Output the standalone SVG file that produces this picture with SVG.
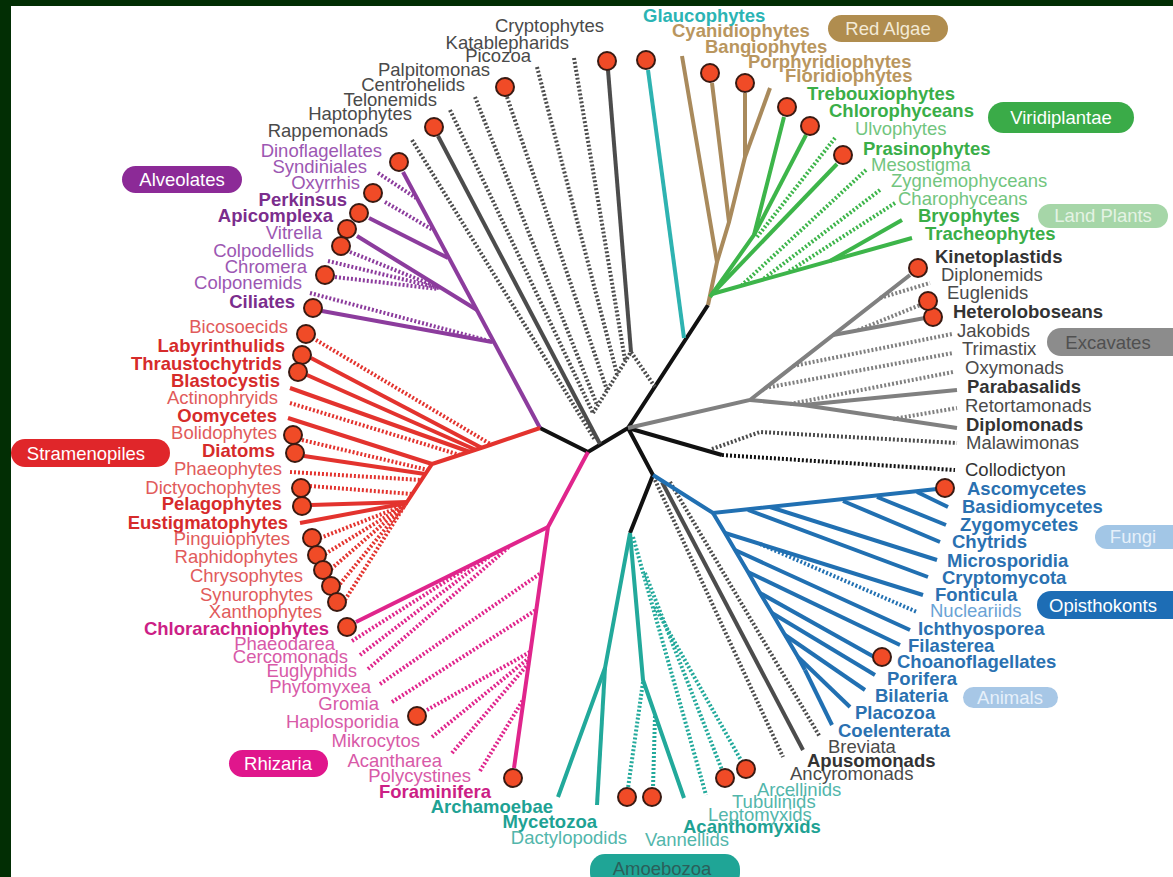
<svg xmlns="http://www.w3.org/2000/svg" width="1173" height="877" viewBox="0 0 1173 877">
<style>
.c{fill:#f04b27;stroke:#3a1a12;stroke-width:2}
text{font-family:"Liberation Sans",Arial,Helvetica,sans-serif;font-size:18.5px}
.e{text-anchor:end}
.m{text-anchor:middle}
.b{font-weight:bold}
.s{fill:none;stroke-width:4}
.d{stroke-dasharray:2 2}
.k{stroke:#111}
.g4{stroke:#4c4c4c}
.pu{stroke:#8c3c9d}
.re{stroke:#e3332e}
.pk{stroke:#e0258c}
.te{stroke:#22a99b}
.gl{stroke:#2eb3b1}
.bl{stroke:#2170b2}
.gr{stroke:#808080}
.gn{stroke:#3db54a}
.br{stroke:#a98a5c}
.tg{fill:#4a4a4a}.tgb{fill:#333}
.tpu{fill:#9c57b2}.tpub{fill:#7b2d8d}
.tre{fill:#e15b5b}.treb{fill:#d62b2b}
.tpk{fill:#d85aa8}.tpkb{fill:#cc1f86}
.tte{fill:#52b6ab}.tteb{fill:#1ea294}
.tbl{fill:#6aa3d5}.tblb{fill:#2a71b1}
.tgn{fill:#72c57e}.tgnb{fill:#3aae48}
.tbrb{fill:#b9965e}
.tglb{fill:#2bb4b4}
.pt{fill:#fff}
</style>
<rect x="0" y="0" width="1173" height="877" fill="#022e04"/>
<rect x="11" y="6" width="1162" height="871" fill="#fff"/>

<g id="connectors">
<path class="s k" d="M540,428 L588,452 L628,428 L708,305"/>
<path class="s k" d="M628,428 L653,475 L630,533"/>
<path class="s k" d="M628,428 L722,455"/>
<path class="s k d" d="M722,455 L955,470"/>
<path class="s g4 d" d="M412,140 L595,440"/>
<path class="s g4" d="M438,136 L600,444"/>
<path class="s g4 d" d="M450,110 L593,413"/>
<path class="s g4 d" d="M475,97 L597,405"/>
<path class="s g4 d" d="M507,97 L607,390"/>
<path class="s g4 d" d="M537,67 L617,374"/>
<path class="s g4 d" d="M574,58 L625,360"/>
<path class="s g4" d="M608,70 L631,352"/>
<path class="s g4 d" d="M593,413 L631,352 L655,387"/>
<path class="s gl" d="M648,70 L684,338"/>
<path class="s br" d="M682,56 L717,262 L708,305"/>
<path class="s br" d="M712,83 L729,222 L717,262"/>
<path class="s br" d="M745,93 L745,157 L729,222"/>
<path class="s br" d="M770,88 L745,157"/>
<path class="s gn" d="M784,117 L754,235 L710,297"/>
<path class="s gn" d="M806,135 L754,235"/>
<path class="s gn d" d="M835,138 L757,237"/>
<path class="s gn" d="M837,164 L712,294"/>
<path class="s gn d" d="M866,170 L742,285"/>
<path class="s gn d" d="M880,190 L762,280"/>
<path class="s gn d" d="M895,203 L788,272"/>
<path class="s gn" d="M902,220 L830,261"/>
<path class="s gn" d="M912,238 L712,294"/>
<path class="s pu" d="M403,172 L540,428"/>
<path class="s pu d" d="M378,173 L416,198"/>
<path class="s pu d" d="M385,202 L433,230"/>
<path class="s pu" d="M369,218 L448,258"/>
<path class="s pu" d="M357,236 L477,310"/>
<path class="s pu d" d="M350,252 L440,288"/>
<path class="s pu d" d="M328,261 L439,288"/>
<path class="s pu d" d="M335,277 L438,289"/>
<path class="s pu d" d="M310,293 L493,342"/>
<path class="s pu" d="M322,311 L492,342"/>
<path class="s re" d="M540,428 L487,446 L432,464 L405,505"/>
<path class="s re d" d="M316,340 L492,445"/>
<path class="s re" d="M311,358 L482,448"/>
<path class="s re" d="M307,375 L476,450"/>
<path class="s re" d="M290,388 L470,452"/>
<path class="s re d" d="M290,403 L460,455"/>
<path class="s re" d="M288,418 L432,464"/>
<path class="s re d" d="M302,440 L428,470"/>
<path class="s re" d="M304,456 L425,474"/>
<path class="s re d" d="M290,472 L421,480"/>
<path class="s re d" d="M310,486 L412,494"/>
<path class="s re" d="M311,505 L407,502"/>
<path class="s re" d="M300,523 L407,503"/>
<path class="s re d" d="M320,538 L405,505"/>
<path class="s re d" d="M325,554 L405,505"/>
<path class="s re d" d="M331,569 L405,505"/>
<path class="s re d" d="M340,584 L405,505"/>
<path class="s re d" d="M345,600 L405,505"/>
<path class="s pk" d="M588,452 L548,527 L514,768"/>
<path class="s pk" d="M356,622 L548,527"/>
<path class="s pk d" d="M352,641 L470,566"/>
<path class="s pk d" d="M360,655 L490,556"/>
<path class="s pk d" d="M368,669 L510,546"/>
<path class="s pk d" d="M380,684 L541,573"/>
<path class="s pk d" d="M392,702 L536,610"/>
<path class="s pk d" d="M427,710 L530,652"/>
<path class="s pk d" d="M432,737 L529,658"/>
<path class="s pk d" d="M452,753 L529,663"/>
<path class="s pk d" d="M480,771 L523,700"/>
<path class="s te" d="M630,533 L605,668 L558,797"/>
<path class="s te" d="M605,668 L597,805"/>
<path class="s te" d="M630,533 L643,680 L684,798"/>
<path class="s te d" d="M643,682 L628,788"/>
<path class="s te d" d="M655,716 L653,788"/>
<path class="s te d" d="M633,537 L706,795"/>
<path class="s te d" d="M645,573 L722,770"/>
<path class="s te d" d="M655,607 L742,762"/>
<path class="s g4 d" d="M655,480 L783,757"/>
<path class="s g4" d="M662,482 L803,750"/>
<path class="s g4 d" d="M670,482 L820,737"/>
<path class="s bl" d="M653,475 L713,513 L937,489"/>
<path class="s bl" d="M917,492 L948,507"/>
<path class="s bl" d="M877,497 L946,525"/>
<path class="s bl" d="M843,501 L940,542"/>
<path class="s bl" d="M770,507 L937,560"/>
<path class="s bl" d="M748,510 L928,577"/>
<path class="s bl" d="M713,513 L725,533 L735,550 L748,572 L760,593 L772,613 L785,635 L798,657 L805,670"/>
<path class="s bl" d="M725,533 L923,595"/>
<path class="s bl d" d="M760,544 L917,612"/>
<path class="s bl" d="M735,550 L910,630"/>
<path class="s bl" d="M748,572 L900,645"/>
<path class="s bl" d="M760,593 L876,658"/>
<path class="s bl" d="M772,613 L875,675"/>
<path class="s bl" d="M785,635 L865,690"/>
<path class="s bl" d="M798,657 L850,707"/>
<path class="s bl" d="M805,670 L832,725"/>
<path class="s gr" d="M628,428 L750,400 L910,275"/>
<path class="s gr" d="M833,335 L925,318"/>
<path class="s gr d" d="M858,330 L920,305"/>
<path class="s gr d" d="M880,298 L930,283"/>
<path class="s gr d" d="M793,366 L952,334"/>
<path class="s gr d" d="M765,388 L953,353"/>
<path class="s gr d" d="M790,404 L953,372"/>
<path class="s gr" d="M750,400 L803,405 L957,390"/>
<path class="s gr" d="M803,405 L957,428"/>
<path class="s gr d" d="M893,419 L957,408"/>
<path class="s g4 d" d="M712,449 L760,432 L957,443"/>
</g>

<g id="n-cryptophytes"><circle class="c" cx="607" cy="61" r="9"/><text class="e tg" x="604" y="32">Cryptophytes</text></g>
<g id="n-katablepharids"><text class="e tg" x="569" y="49">Katablepharids</text></g>
<g id="n-picozoa"><text class="e tg" x="531" y="62">Picozoa</text></g>
<g id="n-palpitomonas"><circle class="c" cx="505" cy="87" r="9"/><text class="e tg" x="490" y="76">Palpitomonas</text></g>
<g id="n-centrohelids"><text class="e tg" x="465" y="91">Centrohelids</text></g>
<g id="n-telonemids"><text class="e tg" x="437" y="106">Telonemids</text></g>
<g id="n-haptophytes"><circle class="c" cx="434" cy="127" r="9"/><text class="e tg" x="412" y="120">Haptophytes</text></g>
<g id="n-rappemonads"><text class="e tg" x="388" y="137">Rappemonads</text></g>

<g id="n-dinoflagellates"><circle class="c" cx="399" cy="162" r="9"/><text class="e tpu" x="382" y="157">Dinoflagellates</text></g>
<g id="n-syndiniales"><text class="e tpu" x="367" y="173">Syndiniales</text></g>
<g id="n-oxyrrhis"><text class="e tpu" x="360" y="189">Oxyrrhis</text></g>
<g id="n-perkinsus"><circle class="c" cx="373" cy="193" r="9"/><text class="e b tpub" x="347" y="206">Perkinsus</text></g>
<g id="n-apicomplexa"><circle class="c" cx="359" cy="213" r="9"/><text class="e b tpub" x="333" y="222">Apicomplexa</text></g>
<g id="n-vitrella"><circle class="c" cx="347" cy="229" r="9"/><text class="e tpu" x="322" y="239">Vitrella</text></g>
<g id="n-colpodellids"><circle class="c" cx="341" cy="246" r="9"/><text class="e tpu" x="314" y="257">Colpodellids</text></g>
<g id="n-chromera"><circle class="c" cx="325" cy="275" r="9"/><text class="e tpu" x="307" y="273">Chromera</text></g>
<g id="n-colponemids"><text class="e tpu" x="302" y="289">Colponemids</text></g>
<g id="n-ciliates"><circle class="c" cx="313" cy="308" r="9"/><text class="e b tpub" x="295" y="308">Ciliates</text></g>

<g id="n-bicosoecids"><circle class="c" cx="306" cy="334" r="9"/><text class="e tre" x="288" y="333">Bicosoecids</text></g>
<g id="n-labyrinthulids"><circle class="c" cx="302" cy="355" r="9"/><text class="e b treb" x="285" y="352">Labyrinthulids</text></g>
<g id="n-thraustochytrids"><circle class="c" cx="298" cy="372" r="9"/><text class="e b treb" x="282" y="370">Thraustochytrids</text></g>
<g id="n-blastocystis"><text class="e b treb" x="280" y="387">Blastocystis</text></g>
<g id="n-actinophryids"><text class="e tre" x="278" y="404">Actinophryids</text></g>
<g id="n-oomycetes"><text class="e b treb" x="277" y="422">Oomycetes</text></g>
<g id="n-bolidophytes"><circle class="c" cx="293" cy="435" r="9"/><text class="e tre" x="277" y="439">Bolidophytes</text></g>
<g id="n-diatoms"><circle class="c" cx="295" cy="453" r="9"/><text class="e b treb" x="275" y="457">Diatoms</text></g>
<g id="n-phaeophytes"><text class="e tre" x="282" y="475">Phaeophytes</text></g>
<g id="n-dictyochophytes"><circle class="c" cx="301" cy="488" r="9"/><text class="e tre" x="281" y="494">Dictyochophytes</text></g>
<g id="n-pelagophytes"><circle class="c" cx="302" cy="506" r="9"/><text class="e b treb" x="282" y="510">Pelagophytes</text></g>
<g id="n-eustigmatophytes"><text class="e b treb" x="288" y="529">Eustigmatophytes</text></g>
<g id="n-pinguiophytes"><circle class="c" cx="312" cy="538" r="9"/><text class="e tre" x="290" y="545">Pinguiophytes</text></g>
<g id="n-raphidophytes"><circle class="c" cx="317" cy="555" r="9"/><text class="e tre" x="298" y="563">Raphidophytes</text></g>
<g id="n-chrysophytes"><circle class="c" cx="323" cy="570" r="9"/><text class="e tre" x="303" y="582">Chrysophytes</text></g>
<g id="n-synurophytes"><circle class="c" cx="331" cy="586" r="9"/><text class="e tre" x="313" y="601">Synurophytes</text></g>
<g id="n-xanthophytes"><circle class="c" cx="337" cy="602" r="9"/><text class="e tre" x="322" y="618">Xanthophytes</text></g>

<g id="n-chlorarachniophytes"><circle class="c" cx="347" cy="627" r="9"/><text class="e b tpkb" x="329" y="635">Chlorarachniophytes</text></g>
<g id="n-phaeodarea"><text class="e tpk" x="335" y="650">Phaeodarea</text></g>
<g id="n-cercomonads"><text class="e tpk" x="348" y="663">Cercomonads</text></g>
<g id="n-euglyphids"><text class="e tpk" x="357" y="677">Euglyphids</text></g>
<g id="n-phytomyxea"><text class="e tpk" x="371" y="693">Phytomyxea</text></g>
<g id="n-gromia"><text class="e tpk" x="379" y="710">Gromia</text></g>
<g id="n-haplosporidia"><circle class="c" cx="417" cy="716" r="9"/><text class="e tpk" x="399" y="728">Haplosporidia</text></g>
<g id="n-mikrocytos"><text class="e tpk" x="420" y="747">Mikrocytos</text></g>
<g id="n-acantharea"><text class="e tpk" x="442" y="767">Acantharea</text></g>
<g id="n-polycystines"><text class="e tpk" x="471" y="782">Polycystines</text></g>
<g id="n-foraminifera"><circle class="c" cx="513" cy="778" r="9"/><text class="e b tpkb" x="491" y="798">Foraminifera</text></g>

<g id="n-archamoebae"><text class="e b tteb" x="553" y="813">Archamoebae</text></g>
<g id="n-mycetozoa"><text class="e b tteb" x="597" y="828">Mycetozoa</text></g>
<g id="n-dactylopodids"><circle class="c" cx="627" cy="797" r="9"/><text class="e tte" x="627" y="844">Dactylopodids</text></g>
<g id="n-vannellids"><circle class="c" cx="652" cy="797" r="9"/><text class="tte" x="645" y="846">Vannellids</text></g>
<g id="n-acanthomyxids"><text class="b tteb" x="683" y="833">Acanthomyxids</text></g>
<g id="n-leptomyxids"><text class="tte" x="708" y="821">Leptomyxids</text></g>
<g id="n-tubulinids"><circle class="c" cx="725" cy="778" r="9"/><text class="tte" x="732" y="808">Tubulinids</text></g>
<g id="n-arcellinids"><circle class="c" cx="746" cy="769" r="9"/><text class="tte" x="757" y="796">Arcellinids</text></g>

<g id="n-breviata"><text class="tg" x="828" y="753">Breviata</text></g>
<g id="n-apusomonads"><text class="b tgb" x="807" y="767">Apusomonads</text></g>
<g id="n-ancyromonads"><text class="tg" x="790" y="780">Ancyromonads</text></g>

<g id="n-coelenterata"><text class="b tblb" x="838" y="737">Coelenterata</text></g>
<g id="n-placozoa"><text class="b tblb" x="855" y="719">Placozoa</text></g>
<g id="n-bilateria"><text class="b tblb" x="875" y="702">Bilateria</text></g>
<g id="n-porifera"><text class="b tblb" x="887" y="685">Porifera</text></g>
<g id="n-choanoflagellates"><circle class="c" cx="882" cy="657" r="9"/><text class="b tblb" x="897" y="668">Choanoflagellates</text></g>
<g id="n-filasterea"><text class="b tblb" x="908" y="652">Filasterea</text></g>
<g id="n-ichthyosporea"><text class="b tblb" x="918" y="635">Ichthyosporea</text></g>
<g id="n-nucleariids"><text class="tbl" x="930" y="617">Nucleariids</text></g>
<g id="n-fonticula"><text class="b tblb" x="935" y="601">Fonticula</text></g>
<g id="n-cryptomycota"><text class="b tblb" x="942" y="584">Cryptomycota</text></g>
<g id="n-microsporidia"><text class="b tblb" x="947" y="567">Microsporidia</text></g>
<g id="n-chytrids"><text class="b tblb" x="952" y="548">Chytrids</text></g>
<g id="n-zygomycetes"><text class="b tblb" x="960" y="531">Zygomycetes</text></g>
<g id="n-basidiomycetes"><text class="b tblb" x="962" y="513">Basidiomycetes</text></g>
<g id="n-ascomycetes"><circle class="c" cx="945" cy="488" r="9"/><text class="b tblb" x="967" y="495">Ascomycetes</text></g>
<g id="n-collodictyon"><text class="tgb" x="965" y="476">Collodictyon</text></g>

<g id="n-malawimonas"><text class="tg" x="966" y="449">Malawimonas</text></g>
<g id="n-diplomonads"><text class="b tgb" x="966" y="431">Diplomonads</text></g>
<g id="n-retortamonads"><text class="tg" x="965" y="412">Retortamonads</text></g>
<g id="n-parabasalids"><text class="b tgb" x="967" y="393">Parabasalids</text></g>
<g id="n-oxymonads"><text class="tg" x="965" y="374">Oxymonads</text></g>
<g id="n-trimastix"><text class="tg" x="962" y="355">Trimastix</text></g>
<g id="n-jakobids"><text class="tg" x="957" y="337">Jakobids</text></g>
<g id="n-heteroloboseans"><circle class="c" cx="933" cy="317" r="9"/><text class="b tgb" x="953" y="318">Heteroloboseans</text></g>
<g id="n-euglenids"><circle class="c" cx="928" cy="301" r="9"/><text class="tg" x="947" y="299">Euglenids</text></g>
<g id="n-diplonemids"><text class="tg" x="941" y="281">Diplonemids</text></g>
<g id="n-kinetoplastids"><circle class="c" cx="918" cy="268" r="9"/><text class="b tgb" x="935" y="263">Kinetoplastids</text></g>

<g id="n-tracheophytes"><text class="b tgnb" x="925" y="240">Tracheophytes</text></g>
<g id="n-bryophytes"><text class="b tgnb" x="918" y="222">Bryophytes</text></g>
<g id="n-charophyceans"><text class="tgn" x="898" y="205">Charophyceans</text></g>
<g id="n-zygnemophyceans"><text class="tgn" x="891" y="187">Zygnemophyceans</text></g>
<g id="n-mesostigma"><text class="tgn" x="871" y="171">Mesostigma</text></g>
<g id="n-prasinophytes"><circle class="c" cx="843" cy="155" r="9"/><text class="b tgnb" x="863" y="155">Prasinophytes</text></g>
<g id="n-ulvophytes"><text class="tgn" x="855" y="135">Ulvophytes</text></g>
<g id="n-chlorophyceans"><circle class="c" cx="810" cy="126" r="9"/><text class="b tgnb" x="829" y="117">Chlorophyceans</text></g>
<g id="n-trebouxiophytes"><circle class="c" cx="787" cy="107" r="9"/><text class="b tgnb" x="807" y="100">Trebouxiophytes</text></g>

<g id="n-floridiophytes"><text class="b tbrb" x="785" y="82">Floridiophytes</text></g>
<g id="n-porphyridiophytes"><circle class="c" cx="745" cy="83" r="9"/><text class="b tbrb" x="748" y="68">Porphyridiophytes</text></g>
<g id="n-bangiophytes"><circle class="c" cx="710" cy="73" r="9"/><text class="b tbrb" x="705" y="53">Bangiophytes</text></g>
<g id="n-cyanidiophytes"><text class="b tbrb" x="672" y="37">Cyanidiophytes</text></g>
<g id="n-glaucophytes"><circle class="c" cx="646" cy="60" r="9"/><text class="b tglb" x="643" y="22">Glaucophytes</text></g>

<g id="pill-redalgae"><rect x="828" y="15" width="120" height="27" rx="13.5" fill="#b08d4f"/><text class="m" x="888" y="35" fill="#f3ead6">Red Algae</text></g>
<g id="pill-viridiplantae"><rect x="988" y="102" width="146" height="31" rx="15.5" fill="#3aab48"/><text class="m pt" x="1061" y="124">Viridiplantae</text></g>
<g id="pill-landplants"><rect x="1038" y="204" width="130" height="24" rx="12" fill="#a6d6a8"/><text class="m" x="1103" y="222" fill="#e4f3e4">Land Plants</text></g>
<g id="pill-excavates"><rect x="1047" y="328" width="140" height="28" rx="14" fill="#8c8c8c"/><text class="m" x="1108" y="349" fill="#505050">Excavates</text></g>
<g id="pill-fungi"><rect x="1095" y="525" width="90" height="24" rx="12" fill="#a2c6e6"/><text class="m" x="1133" y="543" fill="#e6f0fa">Fungi</text></g>
<g id="pill-opisthokonts"><rect x="1037" y="591" width="150" height="28" rx="14" fill="#1d6db5"/><text class="m pt" x="1103" y="612">Opisthokonts</text></g>
<g id="pill-animals"><rect x="963" y="687" width="95" height="21" rx="10.5" fill="#a7c7e6"/><text class="m" x="1010" y="704" fill="#e6f0fa">Animals</text></g>
<g id="pill-alveolates"><rect x="122" y="166" width="120" height="27" rx="13.5" fill="#8c2a97"/><text class="m pt" x="182" y="186">Alveolates</text></g>
<g id="pill-stramenopiles"><rect x="11" y="439" width="159" height="28" rx="14" fill="#e0262a"/><text class="m pt" x="86" y="460">Stramenopiles</text></g>
<g id="pill-rhizaria"><rect x="229" y="750" width="99" height="27" rx="13.5" fill="#e0168c"/><text class="m pt" x="278" y="770">Rhizaria</text></g>
<g id="pill-amoebozoa"><rect x="590" y="854" width="150" height="34" rx="15" fill="#1fa596"/><text class="m" x="662" y="875" fill="#2b5f5a">Amoebozoa</text></g>
</svg>
